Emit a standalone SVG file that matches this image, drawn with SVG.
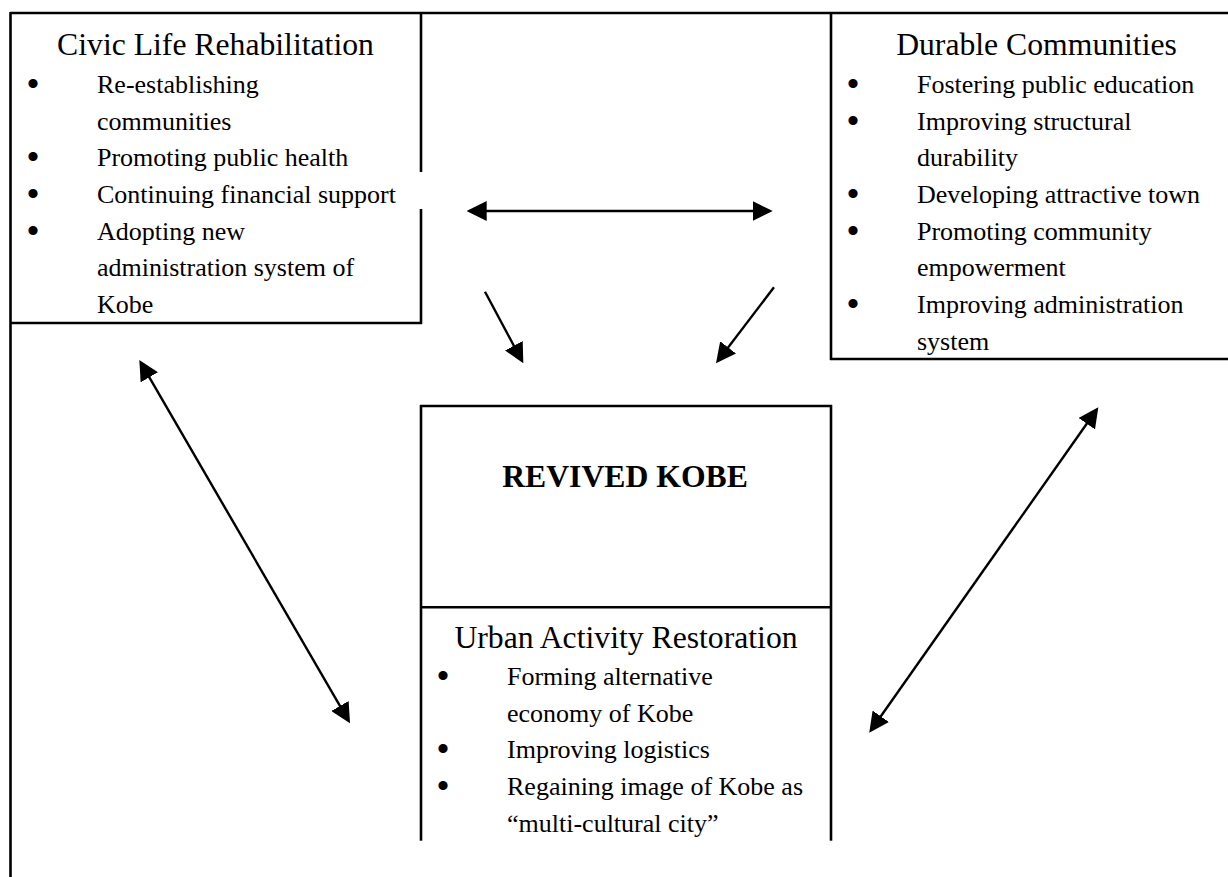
<svg xmlns="http://www.w3.org/2000/svg" width="1228" height="877" viewBox="0 0 1228 877">
  <style>
    .ln { stroke: #000; stroke-width: 2.6; fill: none; }
    .ar { stroke: #000; stroke-width: 2.4; fill: none; }
    text { font-family: "Liberation Serif", "Times New Roman", serif; fill: #000; }
    .ttl { font-size: 31.7px; text-anchor: middle; }
    .bold { font-size: 31.7px; font-weight: bold; text-anchor: middle; }
    .it { font-size: 26px; }
    .bu { font-size: 30px; text-anchor: middle; stroke: #000; stroke-width: 2; }
  </style>
  <defs>
    <marker id="ah" markerUnits="userSpaceOnUse" markerWidth="20" markerHeight="20" viewBox="0 0 20 20" refX="17" refY="10" orient="auto-start-reverse">
      <path d="M0,0 L20,10 L0,20 z" fill="#000"/>
    </marker>
  </defs>
  <rect x="0" y="0" width="1228" height="877" fill="#fff"/>

  <g id="frame">
    <line class="ln" x1="10" y1="13" x2="1228" y2="13"/>
    <line class="ln" x1="10.5" y1="12" x2="10.5" y2="877"/>
  </g>

  <g id="civic">
    <line class="ln" x1="421" y1="12" x2="421" y2="172"/>
    <line class="ln" x1="421" y1="209" x2="421" y2="324"/>
    <line class="ln" x1="10" y1="323" x2="422" y2="323"/>
    <text class="ttl" x="215.5" y="55">Civic Life Rehabilitation</text>
    <text class="bu" x="33" y="94">•</text>
    <text class="it" x="97" y="93">Re-establishing</text>
    <text class="it" x="97" y="129.7">communities</text>
    <text class="bu" x="33" y="167.3">•</text>
    <text class="it" x="97" y="166.3">Promoting public health</text>
    <text class="bu" x="33" y="204">•</text>
    <text class="it" x="97" y="203">Continuing financial support</text>
    <text class="bu" x="33" y="240.7">•</text>
    <text class="it" x="97" y="239.7">Adopting new</text>
    <text class="it" x="97" y="276.3">administration system of</text>
    <text class="it" x="97" y="313">Kobe</text>
  </g>

  <g id="durable">
    <line class="ln" x1="831" y1="12" x2="831" y2="360"/>
    <line class="ln" x1="830" y1="359" x2="1228" y2="359"/>
    <text class="ttl" x="1036.5" y="55">Durable Communities</text>
    <text class="bu" x="853" y="94">•</text>
    <text class="it" x="917" y="93">Fostering public education</text>
    <text class="bu" x="853" y="130.7">•</text>
    <text class="it" x="917" y="129.7">Improving structural</text>
    <text class="it" x="917" y="166.3">durability</text>
    <text class="bu" x="853" y="204">•</text>
    <text class="it" x="917" y="203">Developing attractive town</text>
    <text class="bu" x="853" y="240.7">•</text>
    <text class="it" x="917" y="239.7">Promoting community</text>
    <text class="it" x="917" y="276.3">empowerment</text>
    <text class="bu" x="853" y="314">•</text>
    <text class="it" x="917" y="313">Improving administration</text>
    <text class="it" x="917" y="349.7">system</text>
  </g>

  <g id="revived">
    <line class="ln" x1="420" y1="406" x2="832" y2="406"/>
    <line class="ln" x1="421" y1="405" x2="421" y2="607"/>
    <line class="ln" x1="831" y1="405" x2="831" y2="607"/>
    <text class="bold" x="625" y="486.7">REVIVED KOBE</text>
  </g>

  <g id="urban">
    <line class="ln" x1="420" y1="607.3" x2="832" y2="607.3"/>
    <line class="ln" x1="421" y1="607" x2="421" y2="840.7"/>
    <line class="ln" x1="831" y1="607" x2="831" y2="840.7"/>
    <text class="ttl" x="626" y="648.3">Urban Activity Restoration</text>
    <text class="bu" x="443" y="686">•</text>
    <text class="it" x="507" y="685">Forming alternative</text>
    <text class="it" x="507" y="721.7">economy of Kobe</text>
    <text class="bu" x="443" y="759.3">•</text>
    <text class="it" x="507" y="758.3">Improving logistics</text>
    <text class="bu" x="443" y="796">•</text>
    <text class="it" x="507" y="795">Regaining image of Kobe as</text>
    <text class="it" x="507" y="831.7">“multi-cultural city”</text>
  </g>

  <g id="connectors">
    <line class="ar" x1="469.7" y1="211" x2="769.7" y2="211" marker-start="url(#ah)" marker-end="url(#ah)"/>
    <line class="ar" x1="485" y1="291.7" x2="521.9" y2="360.7" marker-end="url(#ah)"/>
    <line class="ar" x1="774" y1="287.3" x2="717.8" y2="360.9" marker-end="url(#ah)"/>
    <line class="ar" x1="140.8" y1="362.6" x2="348.5" y2="720.7" marker-start="url(#ah)" marker-end="url(#ah)"/>
    <line class="ar" x1="1096.6" y1="409.8" x2="871.0" y2="730.2" marker-start="url(#ah)" marker-end="url(#ah)"/>
  </g>
</svg>
